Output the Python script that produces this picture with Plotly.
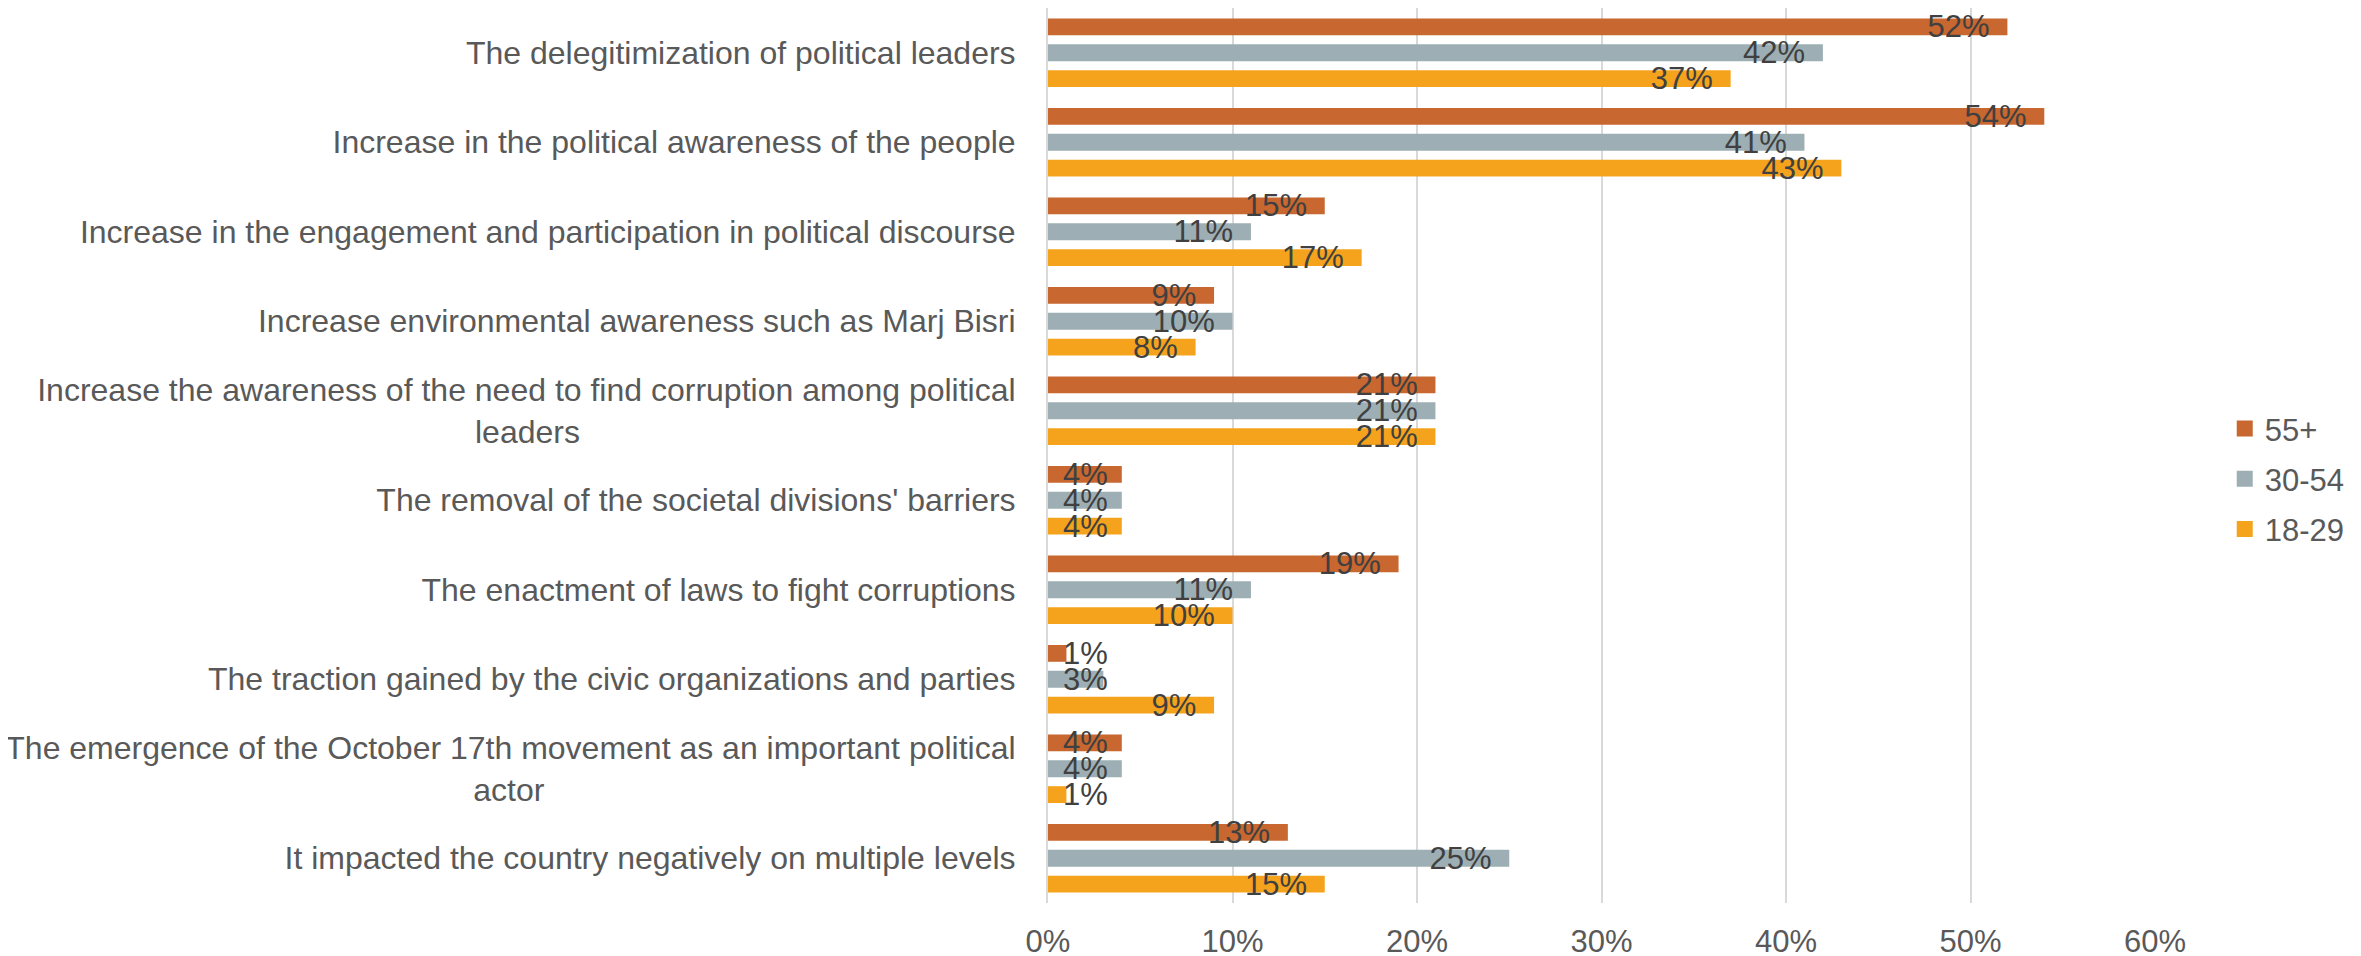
import plotly.graph_objects as go

NB = "\u00a0"
categories = [
    "The delegitimization of political leaders",
    "Increase in the political awareness of the people",
    "Increase in the engagement and participation in political discourse",
    "Increase environmental awareness such as Marj Bisri",
    "Increase the awareness of the need to find corruption among political<br>leaders" + NB * 49,
    "The removal of the societal divisions' barriers",
    "The enactment of laws to fight corruptions",
    "The traction gained by the civic organizations and parties",
    "The emergence of the October 17th movement as an important political<br>actor" + NB * 53,
    "It impacted the country negatively on multiple levels",
]
series_names = ["55+", "30-54", "18-29"]
values_55 = [0.52, 0.54, 0.15, 0.09, 0.21, 0.04, 0.19, 0.01, 0.04, 0.13]
values_30 = [0.42, 0.41, 0.11, 0.10, 0.21, 0.04, 0.11, 0.03, 0.04, 0.25]
values_18 = [0.37, 0.43, 0.17, 0.08, 0.21, 0.04, 0.10, 0.09, 0.01, 0.15]
colors = ["#C8672F", "#9DAFB4", "#F5A31C"]
tick_vals = [0, 0.1, 0.2, 0.3, 0.4, 0.5, 0.6]
tick_text = ["0%", "10%", "20%", "30%", "40%", "50%", "60%"]

FONT = "Liberation Sans, Arial, sans-serif"

fig = go.Figure()
all_vals = [values_55, values_30, values_18]
for i, (name, vals, col) in enumerate(zip(series_names, all_vals, colors)):
    fig.add_trace(go.Bar(
        name=name, y=categories, x=vals, orientation="h",
        marker=dict(color=col, line=dict(width=0)),
        offsetgroup=f"g{i}", showlegend=False,
        hoverinfo="x+y",
    ))
# data labels: placed "inside end", kept clear of the axis for tiny bars
for i, vals in enumerate(all_vals):
    label_end = [max(v - 0.008, 0.034) for v in vals]
    fig.add_trace(go.Bar(
        y=categories, x=label_end, orientation="h",
        marker=dict(color="rgba(0,0,0,0)", line=dict(width=0)),
        offsetgroup=f"g{i}", showlegend=False, hoverinfo="skip",
        text=[f"{round(v*100)}%" for v in vals],
        textposition="inside", insidetextanchor="end", constraintext="none",
        textfont=dict(family=FONT, size=31, color="#404040"),
        cliponaxis=False,
    ))
# legend entries with larger square swatches
for i, (name, col) in enumerate(zip(series_names, colors)):
    fig.add_trace(go.Scatter(
        name=name, x=[None], y=[None], mode="markers",
        marker=dict(symbol="square", size=17, color=col),
        legendgroup=f"g{i}", showlegend=True, hoverinfo="skip",
    ))

fig.update_layout(
    width=2353, height=948,
    barmode="group", bargap=0.133, bargroupgap=0.35,
    plot_bgcolor="white", paper_bgcolor="white",
    margin=dict(l=1040, r=206, t=0, b=53, autoexpand=False),
    font=dict(family=FONT, size=32, color="#595959"),
    xaxis=dict(range=[0, 0.6], tickvals=tick_vals, ticktext=tick_text,
               showgrid=True, gridcolor="#D9D9D9", gridwidth=2,
               zeroline=False, showline=False, ticks="",
               ticklabelstandoff=17,
               tickfont=dict(family=FONT, size=31, color="#595959")),
    yaxis=dict(autorange="reversed", showgrid=False, ticks="",
               showline=True, linecolor="#D9D9D9", linewidth=2,
               ticklabelstandoff=24,
               tickfont=dict(family=FONT, size=32, color="#595959")),
    legend=dict(x=1.063, y=0.474, xanchor="left", yanchor="middle",
                traceorder="grouped", tracegroupgap=7,
                font=dict(family=FONT, size=31, color="#595959")),
)

fig.write_html("out.html")
